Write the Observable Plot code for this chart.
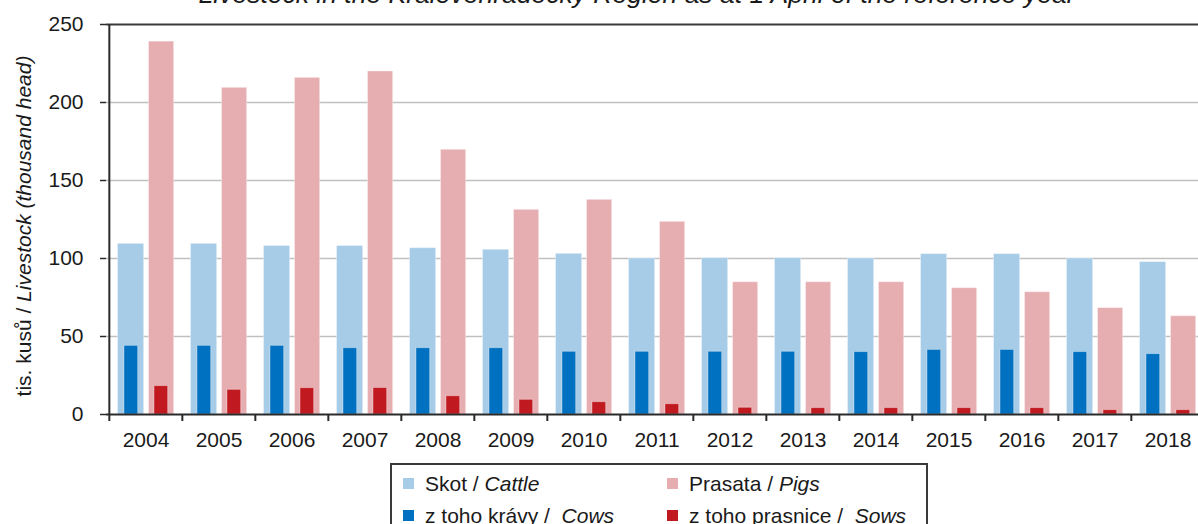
<!DOCTYPE html>
<html>
<head>
<meta charset="utf-8">
<script src="https://cdn.jsdelivr.net/npm/d3@7"></script>
<script src="https://cdn.jsdelivr.net/npm/@observablehq/plot@0.6"></script>
<style>
  html, body { margin: 0; padding: 0; background: #fff; overflow: hidden; }
  #chart { position: relative; width: 1198px; height: 524px; overflow: hidden; font-family: "Liberation Sans", Arial, sans-serif; color: #1a1a1a; }
  #chart svg { position: absolute; left: 0; top: 0; }
  #legend { position: absolute; left: 390px; top: 463px; width: 538px; height: 80px; border: 2px solid #3a3a3a; box-sizing: border-box; background: #fff; font-size: 21px; }
  .item { position: absolute; display: flex; align-items: center; white-space: pre; line-height: 1; }
  .sw { width: 11px; height: 11px; margin-right: 11px; flex: none; }
</style>
</head>
<body>
<div id="chart">
  <div id="legend"></div>
</div>
<script>
const title = "Livestock in the Královéhradecký Region as at 1 April of the reference year";
const years = ["2004","2005","2006","2007","2008","2009","2010","2011","2012","2013","2014","2015","2016","2017","2018"];
const cattle = [109.4,109.4,108,108,106.6,105.6,103,100,100.2,100.2,100,102.8,102.8,100,97.7];
const cows   = [44,44,44,42.5,42.5,42.5,40.2,40.2,40.2,40.2,40,41.4,41.4,40,38.7];
const pigs   = [239,209.4,215.8,219.9,169.7,131.2,137.6,123.5,84.8,84.8,84.8,81,78.4,68.2,63];
const sows   = [18.2,15.8,16.9,17,11.7,9.4,7.9,6.6,4.3,4.1,4.1,4.1,4.1,2.8,2.8];
const yTicks = [0,50,100,150,200,250];
const gridTicks = [50,100,150,200];
const seriesNames = [
  {key:"cattle", cz:"Skot / ", en:"Cattle", color:"#a7cce7"},
  {key:"pigs", cz:"Prasata / ", en:"Pigs", color:"#e7aeb2"},
  {key:"cows", cz:"z toho krávy /  ", en:"Cows", color:"#0070c0"},
  {key:"sows", cz:"z toho prasnice /  ", en:"Sows", color:"#c0191f"}
];

const rows = years.map((year, i) => ({year, cattle: cattle[i], cows: cows[i], pigs: pigs[i], sows: sows[i]}));

const W = 1198, H = 450, mL = 106, mR = -8, mT = 24, mB = 36;
const bw = (W - mR - mL) / years.length;
const col = Object.fromEntries(seriesNames.map(s => [s.key, s.color]));
const barOpts = (key, l, r) => ({x: "year", y: key, fill: col[key], insetLeft: l, insetRight: bw - r, stroke: "#fff", strokeOpacity: 0.35, strokeWidth: 1});

const svg = Plot.plot({
  width: W, height: H, marginLeft: mL, marginRight: mR, marginTop: mT, marginBottom: mB,
  style: {fontFamily: '"Liberation Sans", Arial, sans-serif', fontSize: "21px", color: "#1a1a1a", overflow: "visible", background: "transparent"},
  x: {domain: years, padding: 0, label: null},
  y: {domain: [0, 250], label: null},
  marks: [
    Plot.ruleY(gridTicks, {stroke: "#c0c0c0", strokeWidth: 1.5}),
    Plot.ruleY([250], {stroke: "#3a3a3a", strokeWidth: 2}),
    Plot.barY(rows, barOpts("cattle", 8.5, 35)),
    Plot.barY(rows, barOpts("pigs", 39.5, 65)),
    Plot.barY(rows, barOpts("cows", 15, 29)),
    Plot.barY(rows, barOpts("sows", 45, 59)),
    Plot.axisY({ticks: yTicks, tickSize: 6, tickPadding: 17, stroke: "#2a2a2a", strokeWidth: 1.5, fill: "#1a1a1a", label: null}),
    Plot.axisX({tickSize: 0, tickPadding: 18, fill: "#1a1a1a", label: null}),
    Plot.axisX({tickSize: 7, tickFormat: () => "", dx: -bw / 2, stroke: "#2a2a2a", strokeWidth: 2, label: null}),
    Plot.ruleX([years[0]], {y1: 0, y2: 250, dx: -bw / 2, stroke: "#2a2a2a", strokeWidth: 2}),
    Plot.ruleY([0], {stroke: "#2a2a2a", strokeWidth: 2})
  ]
});

const chart = document.getElementById("chart");
chart.insertBefore(svg, chart.firstChild);

const s = d3.select(svg);
s.append("text")
  .attr("x", 637).attr("y", 2.5)
  .attr("text-anchor", "middle")
  .attr("font-style", "italic")
  .attr("font-size", 26.5)
  .attr("fill", "#1a1a1a")
  .text(title);

const yt = s.append("text")
  .attr("transform", "translate(23,226) rotate(-90)")
  .attr("text-anchor", "middle")
  .attr("dominant-baseline", "central")
  .attr("font-size", 21)
  .attr("fill", "#1a1a1a");
yt.append("tspan").text("tis. kusů / ");
yt.append("tspan").attr("font-style", "italic").text("Livestock (thousand head)");

const legend = document.getElementById("legend");
const pos = [[11, 8], [275, 8], [11, 40], [275, 40]];
seriesNames.forEach((sr, i) => {
  const it = document.createElement("div");
  it.className = "item";
  it.style.left = pos[i][0] + "px";
  it.style.top = pos[i][1] + "px";
  it.innerHTML = `<span class="sw" style="background:${sr.color}"></span><span>${sr.cz}<i>${sr.en}</i></span>`;
  legend.appendChild(it);
});
</script>
</body>
</html>
